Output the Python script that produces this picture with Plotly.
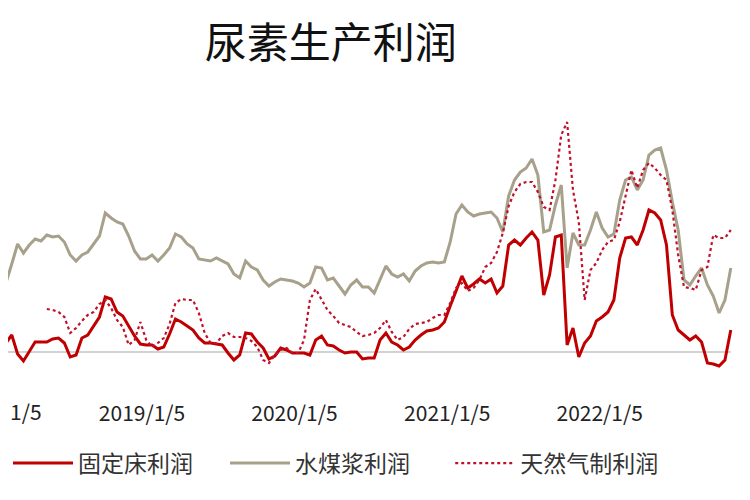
import pandas as pd
import plotly.graph_objects as go

# biweekly observations, 2018-01-30 .. 2022-11-15
dates = pd.date_range("2018-01-30", "2022-11-15", freq="14D")

# 固定床利润 (元/吨)
fixed_bed = [
    35, 45, 85, -10, -45, 0, 50, 50, 50, 65,
    70, 45, -25, -15, 70, 85, 130, 175, 275, 265,
    200, 180, 130, 80, 40, 35, 35, 15, 25, 90,
    165, 150, 130, 110, 70, 45, 45, 40, 35, -5,
    -40, -15, 95, 90, 50, 20, -35, -20, 20, 10,
    -5, -5, -5, -15, 60, 80, 35, 30, 10, -5,
    0, 0, -35, -30, -30, 60, 95, 50, 35, 10,
    25, 60, 85, 105, 110, 120, 150, 230, 310, 380,
    320, 340, 365, 345, 365, 295, 330, 535, 560, 535,
    570, 600, 560, 285, 385, 575, 585, 35, 120, -25,
    45, 80, 155, 175, 200, 260, 470, 570, 575, 535,
    610, 710, 695, 660, 535, 185, 110, 85, 60, 80,
    50, -55, -60, -70, -40, 110,
]

# 水煤浆利润
coal_slurry = [
    325, 345, 440, 540, 495, 535, 565, 555, 585, 575,
    580, 550, 485, 455, 485, 500, 540, 580, 695, 670,
    650, 640, 580, 505, 465, 465, 485, 455, 485, 520,
    590, 575, 540, 520, 465, 460, 455, 470, 455, 440,
    390, 370, 455, 425, 410, 360, 330, 350, 365, 360,
    355, 345, 325, 345, 425, 420, 360, 370, 330, 290,
    335, 360, 325, 325, 295, 360, 430, 390, 375, 390,
    355, 405, 430, 445, 450, 445, 450, 550, 690, 735,
    700, 680, 690, 695, 700, 670, 600, 780, 860, 900,
    920, 965, 885, 600, 610, 735, 835, 420, 595, 535,
    535, 610, 700, 620, 575, 590, 760, 860, 875, 810,
    860, 985, 1010, 1020, 910, 750, 610, 360, 335, 380,
    420, 335, 280, 195, 260, 420,
]

# 天然气制利润
natural_gas = [
    None, None, None, None, None, None, None, None, 215, 210,
    200, 175, 95, 120, 155, 185, 200, 240, 260, 220,
    160, 125, 35, 60, 150, 60, 25, 45, 70, 140,
    245, 265, 260, 260, 195, 95, 45, 45, 80, 95,
    75, 75, 70, 55, 25, -40, -55, -15, 10, 20,
    -5, -5, 60, 260, 315, 260, 210, 180, 145, 135,
    125, 100, 80, 85, 95, 120, 160, 100, 60, 75,
    115, 140, 145, 150, 170, 185, 185, 245, 320, 345,
    305, 320, 360, 425, 445, 500, 595, 730, 800, 840,
    850, 850, 800, 725, 710, 860, 1085, 1150, 810, 650,
    260, 410, 445, 510, 550, 560, 650, 785, 910, 820,
    910, 945, 920, 885, 860, 710, 485, 325, 320, 310,
    410, 425, 585, 570, 570, 610,
]

tick_dates = ["2019-01-05", "2020-01-05", "2021-01-05", "2022-01-05"]
tick_text = ["2019/1/5", "2020/1/5", "2021/1/5", "2022/1/5"]

font_cjk = "Noto Sans CJK SC"

# page body adds an 8px margin, so the figure is sized to the visible area
W, H = 742, 492

fig = go.Figure()
fig.add_trace(
    go.Scatter(
        x=dates,
        y=fixed_bed,
        name="固定床利润",
        mode="lines",
        line=dict(color="#C00000", width=3),
        legend="legend",
        showlegend=True,
    )
)
fig.add_trace(
    go.Scatter(
        x=dates,
        y=coal_slurry,
        name="水煤浆利润",
        mode="lines",
        line=dict(color="#A7A08A", width=3),
        legend="legend2",
        showlegend=True,
    )
)
fig.add_trace(
    go.Scatter(
        x=dates,
        y=natural_gas,
        name="天然气制利润",
        mode="lines",
        line=dict(color="#C0102A", width=2.2, dash="dot"),
        legend="legend3",
        showlegend=True,
    )
)

# zero reference line across the data span
fig.add_shape(
    type="line",
    xref="x",
    yref="y",
    x0=dates[0],
    x1=dates[-1],
    y0=0,
    y1=0,
    line=dict(color="#A6A6A6", width=1.2),
    layer="below",
)

# the first year label is cut off by the left edge in the original
fig.add_annotation(
    x=0,
    y=0.18,
    xref="paper",
    yref="paper",
    text="1/5",
    showarrow=False,
    xanchor="left",
    yanchor="middle",
    font=dict(family=font_cjk, size=21, color="#222222"),
)


def legend_box(xpos):
    return dict(
        orientation="h",
        x=xpos,
        xanchor="left",
        y=0.075,
        yanchor="middle",
        itemwidth=60,
        font=dict(family=font_cjk, size=23, color="#333333"),
        bgcolor="rgba(0,0,0,0)",
    )


fig.update_layout(
    width=W,
    height=H,
    showlegend=True,
    title=dict(
        text="尿素生产利润",
        x=0.435,
        xanchor="center",
        y=0.929,
        yanchor="middle",
        font=dict(family=font_cjk, size=42, color="#111111"),
    ),
    xaxis=dict(
        type="date",
        range=["2018-02-18", "2022-12-31"],
        anchor="free",
        position=0.21,
        tickmode="array",
        tickvals=tick_dates,
        ticktext=tick_text,
        showgrid=False,
        zeroline=False,
        showline=False,
        ticks="",
        ticklabelstandoff=2,
        tickfont=dict(family=font_cjk, size=21, color="#222222"),
    ),
    yaxis=dict(
        range=[-740, 1720],
        showgrid=False,
        zeroline=False,
        showticklabels=False,
        showline=False,
    ),
    legend=legend_box(0.0),
    legend2=legend_box(0.2925),
    legend3=legend_box(0.596),
    margin=dict(l=0, r=0, t=0, b=0),
    plot_bgcolor="white",
    paper_bgcolor="white",
)

fig.write_html("out.html")
